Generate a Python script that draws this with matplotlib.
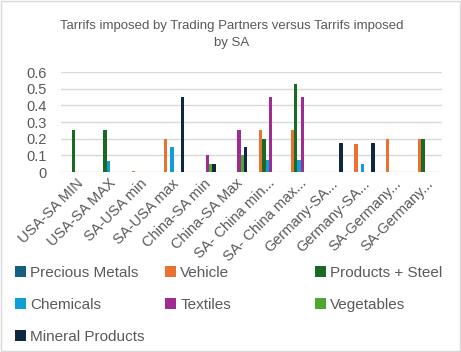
import matplotlib.pyplot as plt
import numpy as np
from matplotlib.patches import Rectangle, Patch

categories = ["USA-SA MIN", "USA-SA MAX", "SA-USA min", "SA-USA max",
              "China-SA min", "China-SA Max", "SA- China min...",
              "SA- China max...", "Germany-SA...", "Germany-SA...",
              "SA-Germany...", "SA-Germany..."]

series_names = ["Precious Metals", "Vehicle", "Products + Steel", "Chemicals",
                "Textiles", "Vegetables", "Mineral Products"]

precious_metals = [0, 0, 0, 0, 0, 0, 0, 0, 0, 0, 0, 0]
vehicle = [0, 0, 0.007, 0.2, 0, 0, 0.25, 0.25, 0, 0.17, 0.2, 0.2]
products_steel = [0.25, 0.25, 0, 0, 0, 0, 0.2, 0.53, 0, 0, 0, 0.2]
chemicals = [0, 0.065, 0, 0.15, 0, 0, 0.07, 0.07, 0, 0.05, 0, 0]
textiles = [0, 0, 0, 0, 0.1, 0.25, 0.45, 0.45, 0, 0, 0, 0]
vegetables = [0, 0, 0, 0, 0.05, 0.1, 0, 0, 0, 0, 0, 0]
mineral_products = [0, 0, 0, 0.45, 0.05, 0.15, 0, 0, 0.175, 0.175, 0, 0]

colors = ["#156082", "#E97132", "#196B24", "#0F9ED5", "#A02B93", "#4EA72E", "#0E2841"]
text_color = "#595959"

plt.rcParams['font.family'] = ['Liberation Sans', 'DejaVu Sans']

fig = plt.figure(figsize=(4.61, 3.52), dpi=100)
ax = fig.add_axes([0.132, 0.511, 0.827, 0.284])

data = [precious_metals, vehicle, products_steel, chemicals, textiles,
        vegetables, mineral_products]
x = np.arange(len(categories))
w = 0.107
for k, vals in enumerate(data):
    ax.bar(x + (k - 3) * w, vals, width=w, color=colors[k], zorder=3)

ax.set_xlim(-0.5, len(categories) - 0.5)
ax.set_ylim(0, 0.6)
ax.set_yticks([0, 0.1, 0.2, 0.3, 0.4, 0.5, 0.6])
ax.set_yticklabels(["0", "0.1", "0.2", "0.3", "0.4", "0.5", "0.6"])
ax.yaxis.grid(True, color="#d9d9d9", linewidth=1, zorder=0)
for s in ax.spines.values():
    s.set_visible(False)
ax.tick_params(axis='y', length=0, labelsize=10.5, colors=text_color, pad=10)
ax.tick_params(axis='x', length=0, labelsize=10.5, colors=text_color, pad=3)
ax.set_xticks(x)
ax.set_xticklabels(categories, rotation=45, ha='right', rotation_mode='anchor')

fig.text(0.503, 0.902, "Tarrifs imposed by Trading Partners versus Tarrifs imposed\nby SA",
         ha='center', va='center', fontsize=9.5, color=text_color, linespacing=1.6)

# legend laid out row by row, three per row
col_x = [0.033, 0.358, 0.683]
row_y = [0.225, 0.134, 0.043]
for i, name in enumerate(series_names):
    r, c = divmod(i, 3)
    h = Patch(facecolor=colors[i], label=name)
    fig.legend(handles=[h], loc='center left', bbox_to_anchor=(col_x[c], row_y[r]),
               frameon=False, fontsize=11, labelcolor=text_color,
               handlelength=0.7, handleheight=0.7, handletextpad=0.3,
               borderaxespad=0, borderpad=0)

fig.patches.append(Rectangle((0.002, 0.002), 0.996, 0.996, transform=fig.transFigure,
                             fill=False, edgecolor="#d9d9d9", linewidth=1))

fig.savefig("out.png", dpi=100)
